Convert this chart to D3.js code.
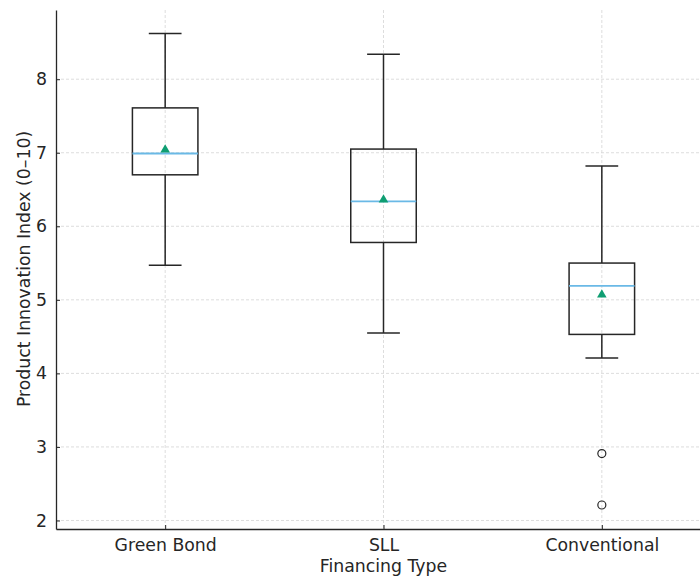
<!DOCTYPE html>
<html>
<head>
<meta charset="utf-8">
<script src="https://cdn.jsdelivr.net/npm/d3@7"></script>
<style>
  body { margin: 0; background: #fff; }
  text { font-family: "DejaVu Sans", sans-serif; fill: #262626; }
</style>
</head>
<body>
<svg id="chart" width="700" height="577"></svg>
<script>
// Box plot summary per financing type
const categories = ["Green Bond", "SLL", "Conventional"];
const whiskerLow = [5.47, 4.55, 4.21];
const q1 = [6.70, 5.78, 4.53];
const medians = [6.99, 6.34, 5.19];
const q3 = [7.61, 7.05, 5.50];
const whiskerHigh = [8.62, 8.34, 6.82];
const means = [7.04, 6.36, 5.07];
const outliers = [[], [], [2.91, 2.21]];
const yTicks = [2, 3, 4, 5, 6, 7, 8];

const boxes = categories.map((c, i) => ({
    name: c, pos: i + 1,
    lo: whiskerLow[i], q1: q1[i], med: medians[i], q3: q3[i], hi: whiskerHigh[i],
    mean: means[i], fliers: outliers[i]
}));

// Plot area (right edge runs past the window, as in the reference)
const margin = { top: 10, left: 56, bottom: 48 };
const plotRight = 711;
const width = plotRight - margin.left;
const height = 577 - margin.top - margin.bottom;
const fontSize = "17.3px";

const svg = d3.select("#chart")
    .append("g")
    .attr("transform", "translate(" + margin.left + "," + margin.top + ")");

const xScale = d3.scaleLinear().domain([0.5, 3.5]).range([0, width]);
const yScale = d3.scaleLinear().domain([1.884, 8.941]).range([height, 0]);

// Grid
svg.append("g").selectAll("line")
    .data(yTicks).enter().append("line")
    .attr("x1", 0).attr("x2", width)
    .attr("y1", d => yScale(d)).attr("y2", d => yScale(d))
    .attr("stroke", "#d4d4d4").attr("stroke-width", 0.8)
    .attr("stroke-dasharray", "3,2");

svg.append("g").selectAll("line")
    .data(boxes).enter().append("line")
    .attr("x1", d => xScale(d.pos)).attr("x2", d => xScale(d.pos))
    .attr("y1", 0).attr("y2", height)
    .attr("stroke", "#d4d4d4").attr("stroke-width", 0.8)
    .attr("stroke-dasharray", "3,2");

// Axes
const yAxis = svg.append("g")
    .call(d3.axisLeft(yScale).tickValues(yTicks).tickFormat(d3.format("d"))
        .tickSizeInner(-4).tickSizeOuter(0).tickPadding(9));
const xAxis = svg.append("g")
    .attr("transform", "translate(0," + height + ")")
    .call(d3.axisBottom(xScale).tickValues([1, 2, 3]).tickFormat(d => categories[d - 1])
        .tickSizeInner(-4).tickSizeOuter(0).tickPadding(10));

[yAxis, xAxis].forEach(a => {
    a.select(".domain").attr("stroke", "#262626").attr("stroke-width", 1.3);
    a.selectAll(".tick line").attr("stroke", "#262626").attr("stroke-width", 1);
    a.selectAll(".tick text").style("font-size", fontSize).attr("fill", "#262626");
});

// Boxes
const boxW = xScale(1.3) - xScale(1);
const capW = boxW / 2;
const g = svg.append("g").selectAll("g").data(boxes).enter().append("g");

g.append("line")
    .attr("x1", d => xScale(d.pos)).attr("x2", d => xScale(d.pos))
    .attr("y1", d => yScale(d.q3)).attr("y2", d => yScale(d.hi))
    .attr("stroke", "#262626").attr("stroke-width", 1.5);
g.append("line")
    .attr("x1", d => xScale(d.pos)).attr("x2", d => xScale(d.pos))
    .attr("y1", d => yScale(d.q1)).attr("y2", d => yScale(d.lo))
    .attr("stroke", "#262626").attr("stroke-width", 1.5);
g.append("line")
    .attr("x1", d => xScale(d.pos) - capW / 2).attr("x2", d => xScale(d.pos) + capW / 2)
    .attr("y1", d => yScale(d.hi)).attr("y2", d => yScale(d.hi))
    .attr("stroke", "#262626").attr("stroke-width", 1.5);
g.append("line")
    .attr("x1", d => xScale(d.pos) - capW / 2).attr("x2", d => xScale(d.pos) + capW / 2)
    .attr("y1", d => yScale(d.lo)).attr("y2", d => yScale(d.lo))
    .attr("stroke", "#262626").attr("stroke-width", 1.5);

g.append("rect")
    .attr("x", d => xScale(d.pos) - boxW / 2)
    .attr("y", d => yScale(d.q3))
    .attr("width", boxW)
    .attr("height", d => yScale(d.q1) - yScale(d.q3))
    .attr("fill", "none")
    .attr("stroke", "#262626").attr("stroke-width", 1.5);

g.append("line")
    .attr("x1", d => xScale(d.pos) - boxW / 2).attr("x2", d => xScale(d.pos) + boxW / 2)
    .attr("y1", d => yScale(d.med)).attr("y2", d => yScale(d.med))
    .attr("stroke", "#6ab9e6").attr("stroke-width", 1.8);

// Mean markers
g.append("path")
    .attr("d", d3.symbol().type(d3.symbolTriangle).size(40))
    .attr("transform", d => "translate(" + xScale(d.pos) + "," + yScale(d.mean) + ")")
    .attr("fill", "#0f9e72");

// Outliers
g.selectAll("circle")
    .data(d => d.fliers.map(v => ({ pos: d.pos, v: v })))
    .enter().append("circle")
    .attr("cx", d => xScale(d.pos))
    .attr("cy", d => yScale(d.v))
    .attr("r", 4)
    .attr("fill", "none")
    .attr("stroke", "#262626").attr("stroke-width", 1.2);

// Axis labels
svg.append("text")
    .attr("x", xScale(2))
    .attr("y", height + 43)
    .style("text-anchor", "middle")
    .style("font-size", fontSize)
    .text("Financing Type");

svg.append("text")
    .attr("transform", "rotate(-90)")
    .attr("x", 0 - (yScale(5.42)))
    .attr("y", -26)
    .style("text-anchor", "middle")
    .style("font-size", fontSize)
    .text("Product Innovation Index (0–10)");
</script>
</body>
</html>
